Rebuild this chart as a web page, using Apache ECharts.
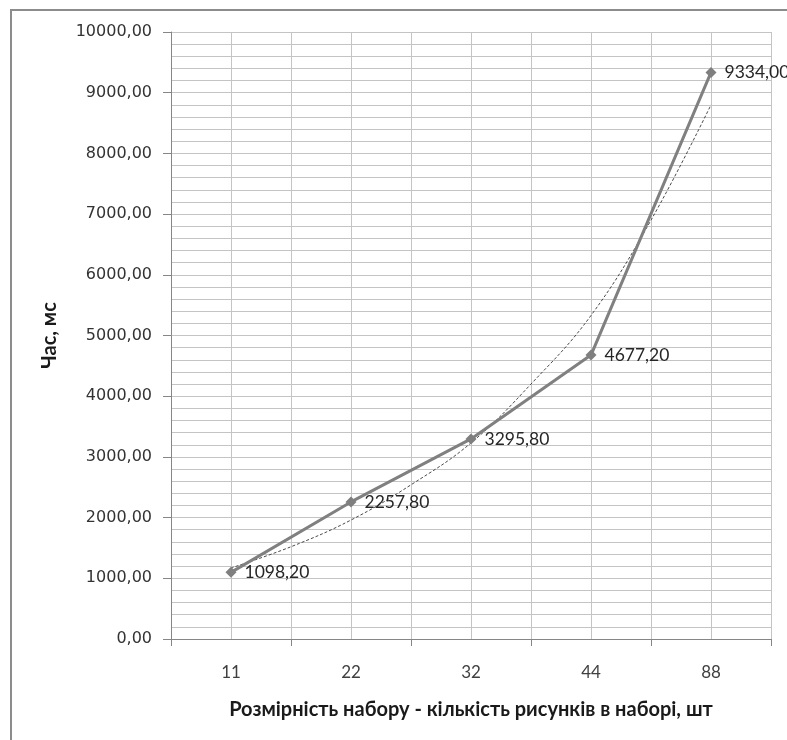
<!DOCTYPE html>
<html>
<head>
<meta charset="utf-8">
<script src="https://cdn.jsdelivr.net/npm/echarts@6/dist/echarts.min.js"></script>
<style>
  html, body { margin: 0; padding: 0; background: #fff; }
  #chart { width: 787px; height: 740px; }
</style>
</head>
<body>
<div id="chart"></div>
<script>
// Set sizes (number of pictures per set)
const categories = ['11', '22', '32', '44', '88'];
// Measured processing time, ms
const timeMs = [1098.2, 2257.8, 3295.8, 4677.2, 9334.0];
// Trend curve samples: position along the category axis (category i sits at i + 0.5) and value
const trendPos = [0.5, 1.0, 1.5, 2.0, 2.5, 3.0, 3.5, 4.0, 4.5];
const trendVal = [1170, 1520, 1960, 2540, 3230, 4200, 5330, 6900, 8800];

const fmt = v => Number(v).toFixed(2).replace('.', ',');

const chart = echarts.init(document.getElementById('chart'), null, { renderer: 'canvas' });

chart.setOption({
  backgroundColor: '#ffffff',
  animation: false,
  graphic: [{
    type: 'rect',
    shape: { x: 11, y: 10, width: 900, height: 900 },
    style: { fill: 'none', stroke: '#8c8c8c', lineWidth: 2 },
    silent: true,
    z: -10
  }],
  grid: { left: 171, right: 16, top: 32, bottom: 101, containLabel: false },
  xAxis: [{
    type: 'category',
    data: categories,
    boundaryGap: true,
    name: 'Розмірність набору - кількість рисунків в наборі, шт',
    nameLocation: 'middle',
    nameGap: 61,
    nameTextStyle: { fontFamily: 'Lato', fontWeight: 'bold', fontSize: 20, color: '#1a1a1a' },
    axisLine: { show: true, lineStyle: { color: '#868686', width: 1 } },
    axisTick: { show: true, alignWithLabel: false, length: 7, lineStyle: { color: '#868686' } },
    axisLabel: { margin: 25, fontFamily: 'Lato', fontSize: 17, color: '#404040' },
    splitLine: { show: false }
  }, {
    type: 'value',
    min: 0,
    max: 5,
    interval: 0.5,
    show: true,
    position: 'bottom',
    axisLine: { show: false },
    axisTick: { show: false },
    axisLabel: { show: false },
    splitLine: { show: true, lineStyle: { color: '#c4c4c4', width: 1 } }
  }],
  yAxis: {
    type: 'value',
    min: 0,
    max: 10000,
    interval: 1000,
    name: 'Час, мс',
    nameLocation: 'middle',
    nameGap: 111,
    nameRotate: 90,
    nameTextStyle: { fontFamily: 'Lato', fontWeight: 'bold', fontSize: 20, color: '#1a1a1a' },
    axisLine: { show: true, lineStyle: { color: '#868686', width: 1 } },
    axisTick: { show: true, length: 8, inside: false, lineStyle: { color: '#868686' } },
    axisLabel: { margin: 19, fontFamily: 'DejaVu Sans', fontSize: 16, color: '#333333', formatter: fmt },
    splitLine: { show: true, lineStyle: { color: '#c4c4c4', width: 1 } },
    minorTick: { show: false, splitNumber: 5 },
    minorSplitLine: { show: true, lineStyle: { color: '#c4c4c4', width: 1 } }
  },
  series: [{
    name: 'trend',
    type: 'line',
    xAxisIndex: 1,
    data: trendPos.map((p, i) => [p, trendVal[i]]),
    smooth: 0.4,
    symbol: 'none',
    lineStyle: { color: '#4a4a4a', width: 1, type: [3, 2] },
    z: 3
  }, {
    name: 'time',
    type: 'line',
    xAxisIndex: 0,
    data: timeMs,
    symbol: 'diamond',
    symbolSize: 11,
    itemStyle: { color: '#7f7f7f' },
    lineStyle: { color: '#808080', width: 3 },
    label: {
      show: true,
      position: 'right',
      distance: 8,
      fontFamily: 'Lato',
      fontSize: 17.5,
      color: '#262626',
      formatter: p => fmt(p.value)
    },
    z: 4
  }]
});
</script>
</body>
</html>
